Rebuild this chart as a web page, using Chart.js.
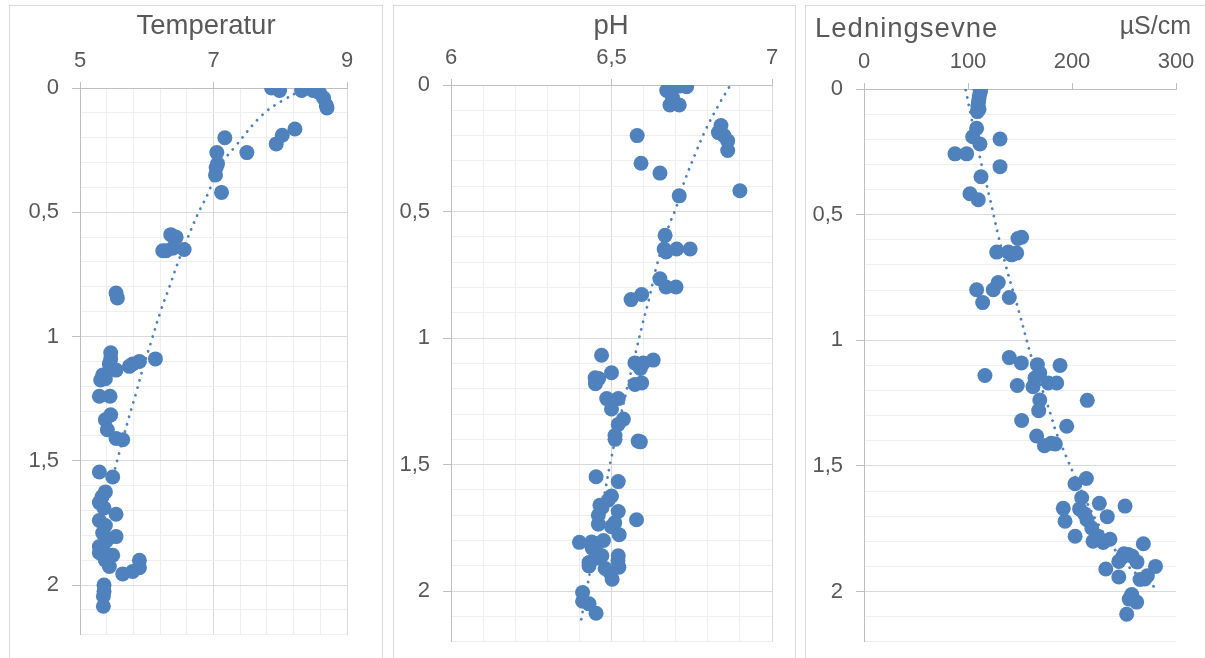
<!DOCTYPE html>
<html>
<head>
<meta charset="utf-8">
<script src="https://cdn.jsdelivr.net/npm/chart.js@4/dist/chart.umd.min.js"></script>
<style>
body{margin:0;background:#fff;width:1205px;height:658px;overflow:hidden;position:relative}
.panel{position:absolute;top:5px;height:720px;border:1px solid #d9d9d9;box-sizing:border-box}
canvas{position:absolute;top:6px}
</style>
</head>
<body>
<div class="panel" style="left:9px;width:374px"></div>
<div class="panel" style="left:393px;width:403px"></div>
<div class="panel" style="left:805px;width:420px"></div>
<canvas id="c1" width="372" height="655" style="left:10px"></canvas>
<canvas id="c2" width="401" height="662" style="left:394px"></canvas>
<canvas id="c3" width="399" height="662" style="left:806px"></canvas>
<script>
// [temperatur, dybde]
var tempPoints = [[7.87,0.00],[7.99,0.01],[8.32,0.01],[8.38,0.00],[8.44,0.00],[8.49,0.01],[8.59,0.02],[8.65,0.04],[8.69,0.07],[8.7,0.08],
  [8.22,0.165],[8.03,0.19],[7.94,0.225],[7.17,0.2],[7.5,0.26],[7.05,0.26],[7.06,0.305],[7.04,0.32],[7.03,0.35],[7.12,0.42],
  [6.36,0.59],[6.41,0.6],[6.44,0.6],[6.24,0.655],[6.29,0.655],[6.39,0.645],[6.56,0.65],
  [5.54,0.825],[5.56,0.845],
  [5.46,1.065],[5.46,1.09],[5.44,1.11],[5.54,1.135],[5.34,1.155],[5.31,1.175],[5.38,1.17],[5.74,1.12],[5.79,1.11],[5.89,1.1],[6.13,1.09],
  [5.29,1.24],[5.45,1.24],[5.46,1.315],[5.38,1.335],[5.41,1.375],[5.54,1.41],[5.64,1.415],
  [5.29,1.545],[5.49,1.565],
  [5.38,1.625],[5.33,1.645],[5.29,1.668],[5.36,1.69],[5.54,1.715],[5.29,1.74],[5.38,1.76],[5.34,1.79],[5.54,1.805],[5.4,1.82],
  [5.29,1.845],[5.35,1.86],[5.29,1.87],[5.49,1.88],[5.38,1.9],[5.44,1.925],[5.64,1.955],[5.79,1.945],[5.89,1.93],[5.89,1.9],
  [5.36,2.0],[5.36,2.025],[5.35,2.045],[5.35,2.085]];
var tempTrend = [[5.5,1.56],[5.53,1.526],[5.73,1.328],[5.84,1.227],[5.94,1.13],[6.06,1.026],[6.21,0.896],[6.34,0.8],[6.47,0.7],
  [6.61,0.605],[6.76,0.51],[6.93,0.417],[7.05,0.33],[7.32,0.237],[7.74,0.106],[8.07,0.045],[8.3,0.012]];

// [pH, dybde]
var phPoints = [[6.693,0.004],[6.713,0.004],[6.734,0.007],[6.672,0.022],[6.685,0.03],[6.682,0.079],[6.711,0.079],[6.69,0.05],
  [6.58,0.2],[6.592,0.309],[6.651,0.348],[6.711,0.438],[6.9,0.418],[6.841,0.16],[6.833,0.188],[6.862,0.22],[6.862,0.259],[6.85,0.2],
  [6.667,0.594],[6.664,0.648],[6.67,0.66],[6.703,0.648],[6.745,0.648],[6.651,0.766],[6.67,0.798],[6.701,0.798],[6.561,0.848],[6.594,0.828],
  [6.469,1.068],[6.449,1.157],[6.46,1.16],[6.45,1.18],[6.5,1.137],[6.573,1.098],[6.599,1.098],[6.63,1.087],[6.59,1.12],[6.573,1.183],[6.594,1.177],
  [6.485,1.239],[6.521,1.239],[6.5,1.28],[6.537,1.32],[6.521,1.341],[6.511,1.385],[6.511,1.4],[6.583,1.407],[6.59,1.41],
  [6.452,1.548],[6.521,1.567],[6.5,1.624],[6.49,1.64],[6.464,1.66],[6.459,1.7],[6.47,1.67],[6.521,1.685],[6.578,1.718],[6.459,1.735],
  [6.5,1.745],[6.51,1.73],[6.524,1.777],
  [6.4,1.807],[6.438,1.806],[6.475,1.8],[6.454,1.847],[6.44,1.83],[6.43,1.887],[6.45,1.87],[6.47,1.86],[6.521,1.86],[6.523,1.905],
  [6.52,1.88],[6.495,1.926],[6.48,1.91],[6.502,1.953],[6.43,1.9],
  [6.41,2.005],[6.41,2.04],[6.43,2.05],[6.452,2.087]];
var phTrend = [[6.866,0.01],[6.832,0.083],[6.794,0.175],[6.763,0.266],[6.724,0.392],[6.7,0.489],[6.68,0.552],[6.641,0.713],
  [6.617,0.845],[6.597,0.943],[6.578,1.043],[6.547,1.207],[6.5,1.47],[6.48,1.604],[6.426,1.972],[6.402,2.137]];

// [ledningsevne, dybde]
var condPoints = [[111.5,0.0],[112,0.01],[111,0.025],[110.5,0.04],[110,0.055],[109.5,0.07],[110.6,0.081],[109,0.09],
  [108.3,0.156],[104.5,0.19],[111.5,0.219],[130.8,0.199],[87.5,0.258],[98.7,0.258],[130.8,0.309],[112.5,0.349],[101.9,0.417],[109.9,0.441],
  [151.6,0.59],[148,0.595],[127.6,0.649],[138.8,0.649],[146.8,0.653],[142,0.66],[129.1,0.77],[124.3,0.799],[108.3,0.799],[114.1,0.85],[139.7,0.83],
  [116.3,1.14],[139.7,1.069],[151.3,1.09],[166.7,1.097],[169,1.13],[188.5,1.1],[164.4,1.15],[177.2,1.17],[185.3,1.17],[147.4,1.18],
  [162.5,1.185],[169,1.238],[214.7,1.239],[168,1.28],[151.6,1.319],[194.9,1.342],[166,1.381],[173.5,1.42],[184,1.413],[180,1.41],
  [202.9,1.571],[213.8,1.55],[209.3,1.627],[191.6,1.669],[207.3,1.671],[226.3,1.649],[251,1.66],[193.3,1.72],[214.4,1.714],[219,1.747],
  [233.9,1.702],[203,1.78],[220.2,1.8],[230,1.805],[236.5,1.792],[212,1.69],[225,1.78],
  [249,1.861],[254.2,1.853],[262.5,1.882],[268.6,1.81],[232.5,1.91],[245,1.942],[265.4,1.952],[272.5,1.937],[280.3,1.9],[245,1.88],
  [250,1.85],[258,1.86],[270,1.95],
  [257.4,2.012],[262.2,2.042],[252.6,2.09],[255,2.03]];
var condTrend = [[97.8,0.004],[102.9,0.107],[111.5,0.273],[121.2,0.439],[128.5,0.573],[136.5,0.705],[150,0.901],[156.7,1.004],
  [161.2,1.07],[179.5,1.295],[184.6,1.364],[196.8,1.486],[200,1.517],[225,1.73],[250,1.88],[265,1.94],[279,1.981]];

var depthTicks = {min: 0, max: 2.2, step: 0.1};
var blue = '#4f81bd';
var txt = '#595959';
var fontFam = '"Liberation Sans", Arial, sans-serif';

function near(v, unit) {
  var q = v / unit;
  return Math.abs(q - Math.round(q)) < 1e-6;
}
function fmt(v) {
  return String(Math.round(v * 100) / 100).replace('.', ',');
}

var textPlugin = {
  id: 'panelText',
  afterDraw: function(chart, args, opts) {
    var ctx = chart.ctx;
    (opts.items || []).forEach(function(t) {
      ctx.save();
      ctx.font = t.size + 'px ' + fontFam;
      ctx.fillStyle = txt;
      ctx.textAlign = t.align;
      ctx.textBaseline = 'alphabetic';
      if (t.spacing) ctx.letterSpacing = t.spacing;
      ctx.fillText(t.text, t.x, t.y);
      ctx.restore();
    });
  }
};

function toXY(arr) {
  return arr.map(function(p) { return {x: p[0], y: p[1]}; });
}

function makePanel(id, cfg) {
  var ctx = document.getElementById(id).getContext('2d');
  return new Chart(ctx, {
    type: 'scatter',
    data: {
      datasets: [{
        data: toXY(cfg.points),
        backgroundColor: blue,
        borderColor: blue,
        pointRadius: 7.5,
        pointBorderWidth: 0,
        order: 1
      }, {
        type: 'line',
        data: toXY(cfg.trend),
        showLine: true,
        borderColor: blue,
        borderWidth: 2.8,
        borderDash: [0.1, 7.5],
        borderCapStyle: 'round',
        pointRadius: 0,
        tension: 0.4,
        fill: false,
        order: 2
      }]
    },
    options: {
      responsive: false,
      animation: false,
      layout: {padding: cfg.padding},
      plugins: {
        legend: {display: false},
        tooltip: {enabled: false},
        panelText: {items: cfg.texts}
      },
      scales: {
        x: {
          type: 'linear',
          position: 'top',
          min: cfg.xmin,
          max: cfg.xmax,
          afterFit: function(s) { s.height = cfg.xh; },
          ticks: {
            stepSize: cfg.xstep,
            autoSkip: false,
            maxRotation: 0,
            padding: 8,
            color: txt,
            font: {family: fontFam, size: 22},
            callback: function(v) { return cfg.xMajor(v) ? fmt(v) : ''; }
          },
          grid: {
            drawOnChartArea: cfg.xGrid,
            tickLength: 6,
            color: function(c) { return c.tick && cfg.xMajor(c.tick.value) ? '#d9d9d9' : '#eeeeee'; },
            tickColor: function(c) { return c.tick && cfg.xMajor(c.tick.value) ? '#bfbfbf' : 'rgba(0,0,0,0)'; }
          },
          border: {color: '#bfbfbf'}
        },
        y: {
          type: 'linear',
          reverse: true,
          min: depthTicks.min,
          max: depthTicks.max,
          afterFit: function(s) { s.width = cfg.yw; },
          ticks: {
            stepSize: depthTicks.step,
            autoSkip: false,
            padding: 13,
            color: txt,
            font: {family: fontFam, size: 22},
            callback: function(v) { return near(v, 0.5) ? fmt(v) : ''; }
          },
          grid: {
            tickLength: 8,
            color: function(c) { return c.tick && near(c.tick.value, 0.5) ? '#d9d9d9' : '#eeeeee'; },
            tickColor: function(c) { return c.tick && near(c.tick.value, 0.5) ? '#bfbfbf' : 'rgba(0,0,0,0)'; }
          },
          border: {color: '#bfbfbf'}
        }
      }
    },
    plugins: [textPlugin]
  });
}

makePanel('c1', {
  points: tempPoints, trend: tempTrend,
  xmin: 5, xmax: 9, xstep: 0.4, xGrid: true,
  xMajor: function(v) { return near(v - 5, 2); },
  padding: {left: 0, top: 0, right: 35, bottom: 0},
  yw: 70, xh: 82,
  texts: [{text: 'Temperatur', x: 196, y: 28, align: 'center', size: 27.5}]
});

makePanel('c2', {
  points: phPoints, trend: phTrend,
  xmin: 6, xmax: 7, xstep: 0.1, xGrid: true,
  xMajor: function(v) { return near(v, 0.5); },
  padding: {left: 0, top: 0, right: 23, bottom: 0},
  yw: 57, xh: 79,
  texts: [{text: 'pH', x: 217, y: 28, align: 'center', size: 27.5}]
});

makePanel('c3', {
  points: condPoints, trend: condTrend,
  xmin: 0, xmax: 300, xstep: 100, xGrid: false,
  xMajor: function(v) { return true; },
  padding: {left: 0, top: 0, right: 29, bottom: 0},
  yw: 58, xh: 83,
  texts: [
    {text: 'Ledningsevne', x: 9, y: 31, align: 'left', size: 27.5, spacing: '1px'},
    {text: 'µS/cm', x: 385, y: 28, align: 'right', size: 25}
  ]
});
</script>
</body>
</html>
